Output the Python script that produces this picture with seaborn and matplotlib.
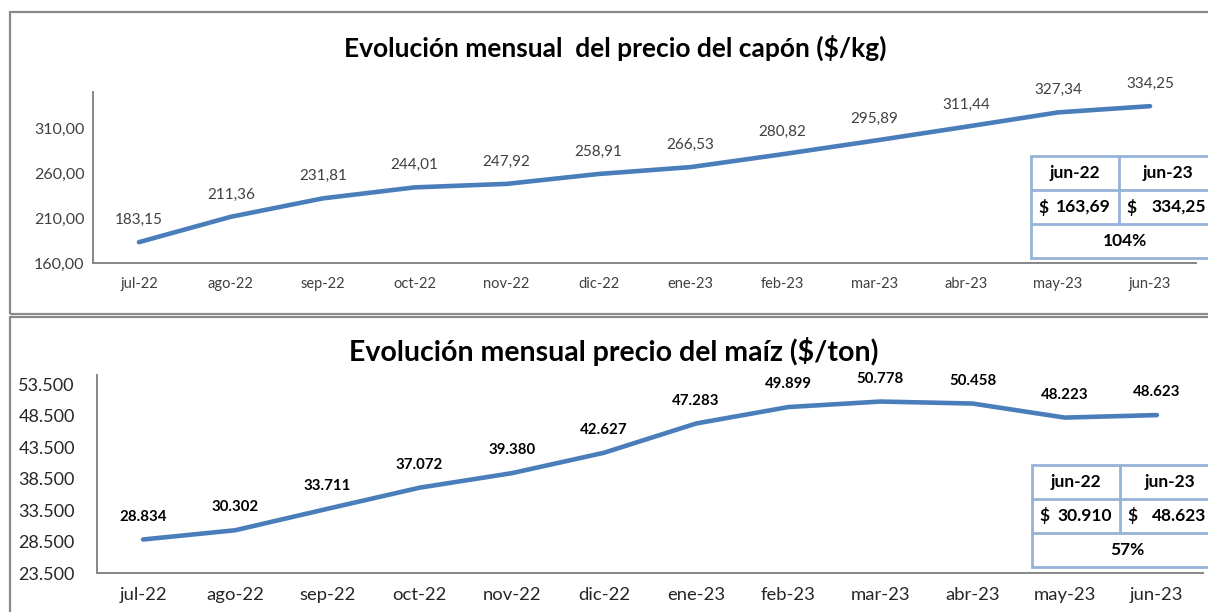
import matplotlib
matplotlib.use("Agg")
import matplotlib.pyplot as plt
import matplotlib.ticker as ticker
from matplotlib.patches import Rectangle
from matplotlib.lines import Line2D
import seaborn as sns
import pandas as pd

# data
meses = ["jul-22", "ago-22", "sep-22", "oct-22", "nov-22", "dic-22",
         "ene-23", "feb-23", "mar-23", "abr-23", "may-23", "jun-23"]
capon = [183.15, 211.36, 231.81, 244.01, 247.92, 258.91,
         266.53, 280.82, 295.89, 311.44, 327.34, 334.25]
maiz = [28834, 30302, 33711, 37072, 39380, 42627,
        47283, 49899, 50778, 50458, 48223, 48623]
capon_ticks = [160, 210, 260, 310]
maiz_ticks = [23500, 28500, 33500, 38500, 43500, 48500, 53500]

tabla_meses = ["jun-22", "jun-23"]
capon_tabla = [163.69, 334.25]
maiz_tabla = [30910, 48623]
capon_var = "104%"
maiz_var = "57%"

titulo_capon = "Evolución mensual  del precio del capón ($/kg)"
titulo_maiz = "Evolución mensual precio del maíz ($/ton)"

W, H = 1208, 612
LINE = "#4A7EBB"
GRID = "#868686"
TBL = "#95B3D7"


def coma(v, dec=2):
    # spanish style 1.234,56
    s = f"{v:,.{dec}f}"
    return s.replace(",", "X").replace(".", ",").replace("X", ".")


def fx(x):
    return x / W


def fy(y):
    return 1 - y / H


sns.set_style("white")
plt.rcParams['font.family'] = ['Lato', 'DejaVu Sans']

fig = plt.figure(figsize=(W / 100, H / 100), dpi=100)

# panel frames
for top, bot in [(12, 314), (317, 640)]:
    fig.patches.append(Rectangle((fx(10), fy(bot)), fx(1300) - fx(10), fy(top) - fy(bot),
                                 transform=fig.transFigure, fill=False,
                                 edgecolor="#8A8A8A", linewidth=1.6, clip_on=False))

ax1 = fig.add_axes([fx(93), fy(263), fx(1196) - fx(93), fy(92) - fy(263)])
ax2 = fig.add_axes([fx(97), fy(573), fx(1203) - fx(97), fy(375) - fy(573)])

df = pd.DataFrame({"mes": meses, "capon": capon, "maiz": maiz})
sns.lineplot(data=df, x="mes", y="capon", ax=ax1, color=LINE, linewidth=3.3, sort=False)
sns.lineplot(data=df, x="mes", y="maiz", ax=ax2, color=LINE, linewidth=3.3, sort=False)


def style_axis(ax, ymin, ymax, yticks, fmt, ysize, xsize, xcolor, ypad):
    ax.set_xlim(-0.5, len(meses) - 0.5)
    ax.set_ylim(ymin, ymax)
    ax.set_xlabel("")
    ax.set_ylabel("")
    for s in ["top", "right"]:
        ax.spines[s].set_visible(False)
    for s in ["left", "bottom"]:
        ax.spines[s].set_color(GRID)
        ax.spines[s].set_linewidth(1.4)
    ax.set_yticks(yticks)
    ax.yaxis.set_major_formatter(ticker.FuncFormatter(fmt))
    ax.set_xticks(range(len(meses)))
    ax.set_xticklabels(meses)
    ax.xaxis.set_minor_locator(ticker.FixedLocator([i + 0.5 for i in range(-1, len(meses))]))
    ax.tick_params(axis="x", which="major", length=0, pad=10, labelsize=xsize, labelcolor=xcolor)
    ax.tick_params(axis="x", which="minor", length=5, width=1.4, color=GRID, direction="out")
    ax.tick_params(axis="y", length=0, pad=ypad, labelsize=ysize, labelcolor=xcolor)
    ax.patch.set_alpha(0)


style_axis(ax1, 160, 350, capon_ticks, lambda v, p: coma(v, 2), 11.5, 10.5, "#404040", 6)
style_axis(ax2, 23500, 55000, maiz_ticks, lambda v, p: coma(v, 0), 13, 13.3, "#262626", 16)

for i, v in enumerate(capon):
    ax1.annotate(coma(v, 2), (i, v), xytext=(0, 16), textcoords="offset points",
                 ha="center", va="center", fontsize=11, color="#404040")
for i, v in enumerate(maiz):
    ax2.annotate(coma(v, 0), (i, v), xytext=(0, 16.5), textcoords="offset points",
                 ha="center", va="center", fontsize=10.8, color="black", fontweight="bold")

fig.text(fx(615), fy(48), titulo_capon, ha="center", va="center",
         fontsize=19, fontweight="bold", color="black")
fig.text(fx(614), fy(352), titulo_maiz, ha="center", va="center",
         fontsize=20.5, fontweight="bold", color="black")


def tabla(left, mid, top, rows, right, vals, var, fmt):
    bottom = rows[-1]
    # outer box and grid lines
    fig.patches.append(Rectangle((fx(left), fy(bottom)), fx(right) - fx(left), fy(top) - fy(bottom),
                                 transform=fig.transFigure, fill=True, facecolor="white",
                                 edgecolor=TBL, linewidth=2, clip_on=False))
    for r in rows[:-1]:
        fig.lines.append(Line2D([fx(left), fx(right)], [fy(r), fy(r)], transform=fig.transFigure,
                                color=TBL, linewidth=2))
    fig.lines.append(Line2D([fx(mid), fx(mid)], [fy(top), fy(rows[1])], transform=fig.transFigure,
                            color=TBL, linewidth=2))
    kw = dict(fontsize=12.5, fontweight="bold", color="black", va="center")
    c0 = (top + rows[0]) / 2
    c1 = (rows[0] + rows[1]) / 2
    c2 = (rows[1] + rows[2]) / 2
    fig.text(fx((left + mid) / 2), fy(c0), tabla_meses[0], ha="center", **kw)
    fig.text(fx((mid + right) / 2 - 1), fy(c0), tabla_meses[1], ha="center", **kw)
    fig.text(fx(left + 7), fy(c1), "$", ha="left", **kw)
    fig.text(fx(mid - 8), fy(c1), fmt(vals[0]), ha="right", **kw)
    fig.text(fx(mid + 7), fy(c1), "$", ha="left", **kw)
    fig.text(fx(1206), fy(c1), fmt(vals[1]), ha="right", **kw)
    fig.text(fx((left + right) / 2), fy(c2), var, ha="center", **kw)


tabla(1031, 1119, 156, [190, 224, 258], 1219, capon_tabla, capon_var, lambda v: coma(v, 2))
tabla(1032, 1120, 465, [499, 533, 567], 1222, maiz_tabla, maiz_var, lambda v: coma(v, 0))

fig.savefig("out.png", dpi=100)
